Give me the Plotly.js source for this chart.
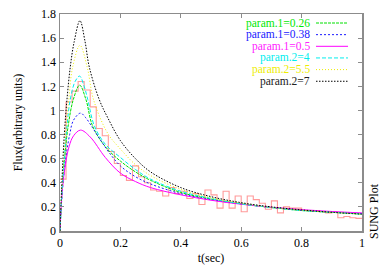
<!DOCTYPE html>
<html>
<head>
<meta charset="utf-8">
<script src="https://cdn.plot.ly/plotly-3.0.1.min.js"></script>
<style>html,body{margin:0;padding:0;background:#fff;}#chart{width:382px;height:267px;}</style>
</head>
<body>
<div id="chart"></div>
<script>
// ---- data ----
const binWidth = 0.02;
const histValues = [0.43,1.07,1.16,1.24,1.17,1.03,0.85,0.79,0.66,0.56,
  0.46,0.42,0.54,0.45,0.40,0.34,0.33,0.29,0.36,0.31,
  0.33,0.27,0.31,0.22,0.34,0.30,0.19,0.33,0.19,0.29,
  0.16,0.29,0.26,0.23,0.18,0.25,0.15,0.20,0.19,0.19,
  0.17,0.17,0.17,0.16,0.15,0.16,0.11,0.12,0.11,0.105];

const tGreen  = [0,0.006,0.015,0.027,0.044,0.065,0.086,0.108,0.15,0.2,0.25,0.3,0.4,0.5,0.6,0.7,0.8,0.9,1.0];
const vGreen  = [0,0.30,0.60,0.87,1.09,1.21,1.09,0.87,0.70,0.58,0.49,0.42,0.32,0.265,0.225,0.195,0.17,0.155,0.14];
const tBlue   = [0,0.006,0.015,0.032,0.045,0.068,0.085,0.107,0.13,0.16,0.2,0.25,0.3,0.4,0.5,0.6,0.7,0.8,0.9,1.0];
const vBlue   = [0,0.27,0.52,0.80,0.92,0.978,0.94,0.86,0.77,0.66,0.54,0.45,0.39,0.31,0.26,0.225,0.195,0.172,0.157,0.145];
const tMag    = [0,0.005,0.015,0.03,0.045,0.068,0.1,0.15,0.2,0.25,0.3,0.4,0.5,0.6,0.7,0.8,0.9,1.0];
const vMag    = [0,0.25,0.50,0.70,0.79,0.837,0.78,0.61,0.48,0.41,0.36,0.30,0.255,0.222,0.197,0.177,0.162,0.15];
const tCyan   = [0,0.006,0.012,0.023,0.034,0.05,0.065,0.08,0.092,0.114,0.15,0.2,0.25,0.3,0.4,0.5,0.6,0.7,0.8,0.9,1.0];
const vCyan   = [0,0.30,0.52,0.87,1.09,1.24,1.285,1.20,1.09,0.87,0.72,0.61,0.51,0.43,0.33,0.27,0.225,0.195,0.17,0.155,0.14];
const tYellow = [0,0.006,0.012,0.02,0.029,0.042,0.066,0.09,0.111,0.158,0.2,0.25,0.3,0.4,0.5,0.6,0.7,0.8,0.9,1.0];
const vYellow = [0,0.33,0.58,0.85,1.09,1.36,1.54,1.36,1.09,0.81,0.68,0.55,0.46,0.345,0.275,0.23,0.195,0.172,0.155,0.14];
const tBlack  = [0,0.007,0.0145,0.023,0.034,0.047,0.066,0.083,0.097,0.13,0.16,0.2,0.25,0.3,0.4,0.5,0.6,0.7,0.8,0.9,1.0];
const vBlack  = [0,0.45,0.81,1.09,1.36,1.57,1.745,1.57,1.36,1.09,0.93,0.75,0.60,0.49,0.36,0.285,0.235,0.20,0.175,0.155,0.14];

const seriesNames = ["param.1=0.26","param.1=0.38","param.1=0.5","param.2=4","param.2=5.5","param.2=7"];
const xTickVals = [0,0.2,0.4,0.6,0.8,1];
const xTickText = ["0","0.2","0.4","0.6","0.8","1"];
const yTickVals = [0,0.2,0.4,0.6,0.8,1,1.2,1.4,1.6,1.8];
const yTickText = ["0","0.2","0.4","0.6","0.8","1","1.2","1.4","1.6","1.8"];

// ---- build ----
const histX = histValues.map((v,i)=>i*binWidth).concat([histValues.length*binWidth]);
const histY = histValues.concat([histValues[histValues.length-1]]);

const styles = [
  {color:'#00e000', dash:'3px,1px', tcol:'#00e800'},
  {color:'#1a1aff', dash:'2px,2px', tcol:'#2020ff'},
  {color:'#ff00ff', dash:'solid',   tcol:'#ff22ff'},
  {color:'#00eeee', dash:'4px,2px', tcol:'#00eeee'},
  {color:'#eeee00', dash:'1px,2px', tcol:'#eeee00'},
  {color:'#000000', dash:'1.5px,1.5px', tcol:'#222222'}
];
const curves = [[tGreen,vGreen],[tBlue,vBlue],[tMag,vMag],[tCyan,vCyan],[tYellow,vYellow],[tBlack,vBlack]];

const traces = [{
  x: histX, y: histY, mode:'lines', line:{shape:'hv', color:'#ff9a9a', width:1.1},
  hoverinfo:'skip', showlegend:false
}];
curves.forEach((c,i)=>{
  traces.push({x:c[0], y:c[1], mode:'lines', name:seriesNames[i],
    line:{shape:'spline', smoothing:1, color:styles[i].color, dash:styles[i].dash, width:1},
    showlegend:false});
});

const font = {family:'"Liberation Serif", "DejaVu Serif", serif', size:12, color:'#000'};
const annotations = [];
const shapes = [];
const rowTop = 23, rowStep = 11.65;
seriesNames.forEach((n,i)=>{
  const py = (231 - (rowTop + i*rowStep)) / 217;
  annotations.push({xref:'paper', yref:'paper', x:(311-60)/302, y:py, text:n, showarrow:false,
    borderpad:0, xanchor:'right', yanchor:'middle',
    font:{family:'"Liberation Serif", serif', size:11.5, color:styles[i].tcol}});
  shapes.push({type:'line', xref:'paper', yref:'paper', x0:(316-60)/302, x1:(348-60)/302, y0:py, y1:py,
    line:{color:styles[i].color, width:1, dash:styles[i].dash}});
});
annotations.push({xref:'paper', yref:'paper', x:(374-60)/302, y:(231-211)/217, text:'SUNG Plot',
  textangle:-90, showarrow:false, xanchor:'center', yanchor:'middle', font:font});

const axisCommon = {showgrid:false, zeroline:false, showline:true, linecolor:'#8c8c8c', linewidth:1.5,
  mirror:'allticks', ticks:'inside', ticklen:4, tickcolor:'#8c8c8c', tickwidth:1, tickfont:font};

const layout = {
  width:382, height:267, margin:{l:60, r:20, t:14, b:36},
  paper_bgcolor:'#fff', plot_bgcolor:'#fff', showlegend:false, font:font,
  xaxis: Object.assign({}, axisCommon, {range:[0,1], tickvals:xTickVals, ticktext:xTickText,
    title:{text:'t(sec)', font:font, standoff:4}}),
  yaxis: Object.assign({}, axisCommon, {range:[0,1.8], tickvals:yTickVals, ticktext:yTickText,
    title:{text:'Flux(arbitrary units)', font:font, standoff:16}}),
  annotations: annotations, shapes: shapes
};

Plotly.newPlot('chart', traces, layout, {staticPlot:true, displayModeBar:false});
</script>
</body>
</html>
